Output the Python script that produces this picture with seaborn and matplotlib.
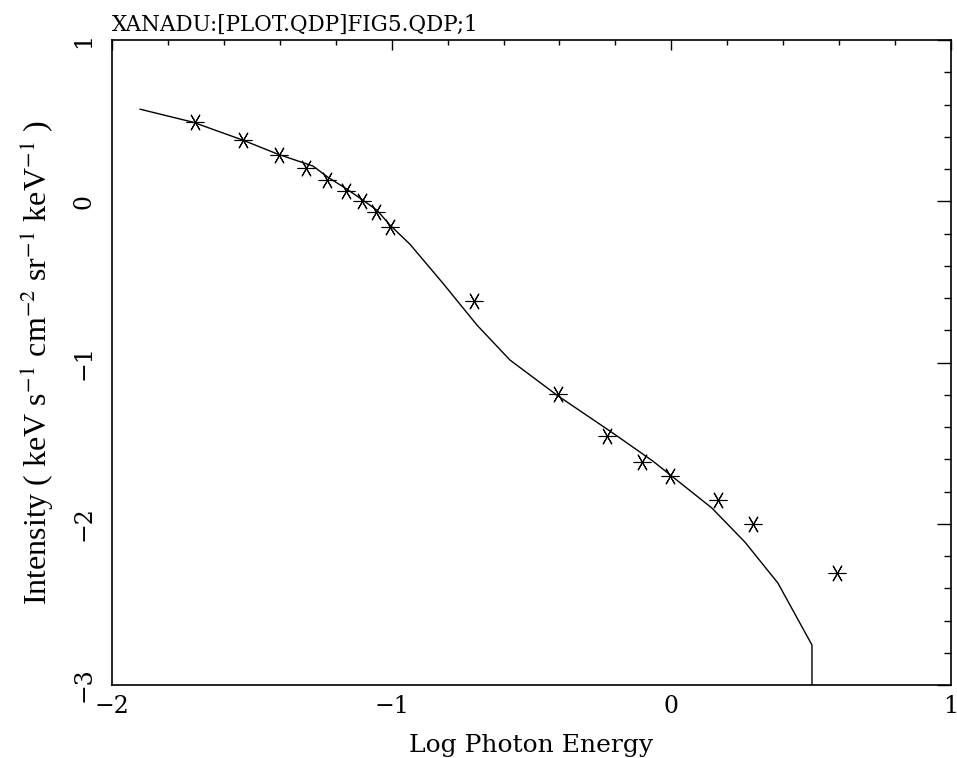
import matplotlib
matplotlib.use("Agg")
import matplotlib.pyplot as plt
import seaborn as sns
import pandas as pd

# observed points (log energy, log intensity)
obs_x = [-1.703, -1.532, -1.403, -1.306, -1.231, -1.163, -1.106, -1.056, -1.006,
         -0.706, -0.405, -0.230, -0.105, -0.005, 0.167, 0.292, 0.592]
obs_y = [0.491, 0.380, 0.287, 0.206, 0.132, 0.064, 0.000, -0.067, -0.160,
         -0.619, -1.195, -1.456, -1.617, -1.704, -1.853, -2.001, -2.305]

# model curve
mod_x = [-1.900, -1.710, -1.532, -1.407, -1.281, -1.228, -1.160, -1.103, -1.053,
         -1.006, -0.935, -0.817, -0.695, -0.577, -0.409, -0.209, -0.066, 0.145,
         0.263, 0.381, 0.503, 0.503]
mod_y = [0.572, 0.491, 0.380, 0.293, 0.219, 0.150, 0.076, 0.008, -0.054,
         -0.147, -0.265, -0.507, -0.767, -0.984, -1.202, -1.437, -1.611, -1.902,
         -2.113, -2.367, -2.752, -3.000]

obs = pd.DataFrame({"x": obs_x, "y": obs_y})
mod = pd.DataFrame({"x": mod_x, "y": mod_y})

sns.set_theme(style="white")
plt.rcParams["font.family"] = ["DejaVu Serif"]
plt.rcParams["mathtext.fontset"] = "stix"
plt.rcParams["axes.unicode_minus"] = True
plt.rcParams["text.color"] = "black"
plt.rcParams["axes.labelcolor"] = "black"
plt.rcParams["xtick.color"] = "black"
plt.rcParams["ytick.color"] = "black"

fig = plt.figure(figsize=(9.57, 7.58), dpi=100)
ax = fig.add_axes([0.117, 0.0963, 0.8767, 0.8507])

sns.lineplot(data=mod, x="x", y="y", sort=False, color="black", linewidth=1.0,
             ax=ax, estimator=None)
sns.scatterplot(data=obs, x="x", y="y", marker=(6, 2, 90), s=150, color="black",
                linewidth=0.8, ax=ax)

ax.set_xlim(-2, 1)
ax.set_ylim(-3, 1)
ax.set_xticks([-2, -1, 0, 1])
ax.set_yticks([-3, -2, -1, 0, 1])
ax.set_xticks([-2 + 0.2 * i for i in range(16)], minor=True)
ax.set_yticks([-3 + 0.2 * i for i in range(21)], minor=True)

for s in ax.spines.values():
    s.set_color("black")
    s.set_linewidth(1.2)

ax.tick_params(which="both", direction="in", top=True, right=True, color="black",
               width=1.0)
ax.tick_params(axis="x", which="major", length=7, labelsize=17, pad=7)
ax.tick_params(axis="x", which="minor", length=3.5)
ax.tick_params(axis="y", which="major", length=10, labelsize=17, pad=12)
ax.tick_params(axis="y", which="minor", length=5)
for lab in ax.get_yticklabels():
    lab.set_rotation(90)
    lab.set_va("center")
    lab.set_ha("right")

ax.set_xlabel("Log Photon Energy", fontsize=18, labelpad=12)
ax.set_ylabel(r"Intensity ( keV s$^{-1}$ cm$^{-2}$ sr$^{-1}$ keV$^{-1}$ )",
              fontsize=23, family="Liberation Serif", labelpad=12)
ax.set_title("XANADU:[PLOT.QDP]FIG5.QDP;1", loc="left", fontsize=15.5, pad=7)

plt.savefig("out.png", dpi=100)
